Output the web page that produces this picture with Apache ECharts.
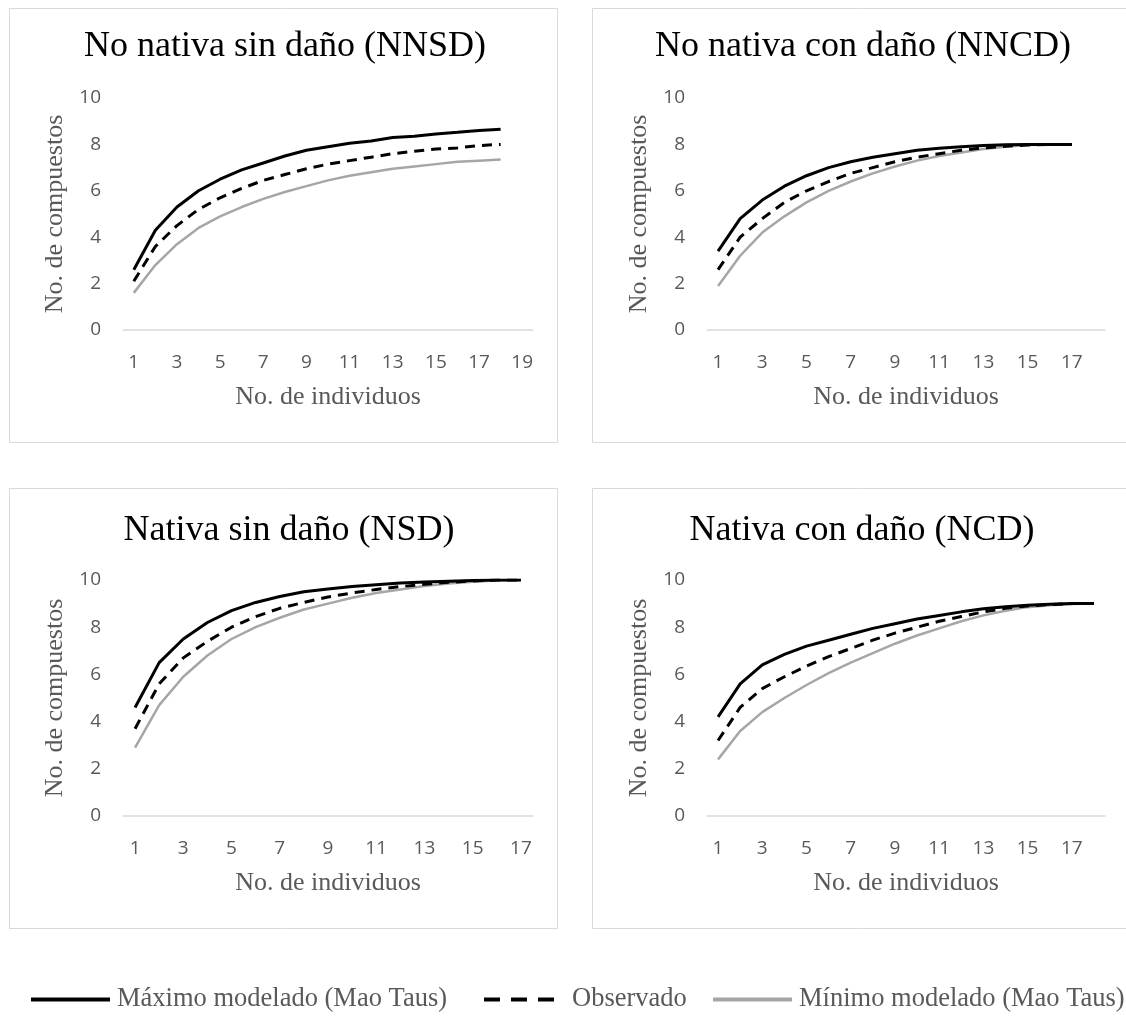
<!DOCTYPE html>
<html>
<head>
<meta charset="utf-8">
<script src="https://cdn.jsdelivr.net/npm/echarts@6/dist/echarts.min.js"></script>
<style>
html,body{margin:0;padding:0;background:#fff;}
#chart{width:1126px;height:1026px;}
</style>
</head>
<body>
<div id="chart"></div>
<script>
// ---- Data ----
var panelTitles = ['No nativa sin daño (NNSD)', 'No nativa con daño (NNCD)', 'Nativa sin daño (NSD)', 'Nativa con daño (NCD)'];
var seriesNames = ['Máximo modelado (Mao Taus)', 'Observado', 'Mínimo modelado (Mao Taus)'];

// x-axis categories (No. de individuos)
var catsNNSD = ['1','2','3','4','5','6','7','8','9','10','11','12','13','14','15','16','17','18','19'];
var catsNNCD = ['1','2','3','4','5','6','7','8','9','10','11','12','13','14','15','16','17','18'];
var catsNSD  = ['1','2','3','4','5','6','7','8','9','10','11','12','13','14','15','16','17'];
var catsNCD  = ['1','2','3','4','5','6','7','8','9','10','11','12','13','14','15','16','17','18'];

// NNSD
var maxNNSD = [2.6, 4.3, 5.3, 6.0, 6.5, 6.9, 7.2, 7.5, 7.75, 7.9, 8.05, 8.15, 8.3, 8.35, 8.45, 8.52, 8.6, 8.65];
var obsNNSD = [2.1, 3.6, 4.5, 5.2, 5.7, 6.1, 6.45, 6.7, 6.95, 7.15, 7.3, 7.45, 7.6, 7.7, 7.8, 7.85, 7.95, 8.0];
var minNNSD = [1.6, 2.8, 3.7, 4.4, 4.9, 5.3, 5.65, 5.95, 6.2, 6.45, 6.65, 6.8, 6.95, 7.05, 7.15, 7.25, 7.3, 7.35];
// NNCD
var maxNNCD = [3.4, 4.8, 5.6, 6.2, 6.65, 7.0, 7.25, 7.45, 7.6, 7.75, 7.83, 7.9, 7.95, 7.98, 8.0, 8.0, 8.0];
var obsNNCD = [2.6, 4.0, 4.8, 5.5, 6.0, 6.4, 6.75, 7.0, 7.25, 7.45, 7.6, 7.75, 7.85, 7.92, 7.97, 8.0, 8.0];
var minNNCD = [1.9, 3.2, 4.2, 4.9, 5.5, 6.0, 6.4, 6.75, 7.05, 7.3, 7.5, 7.65, 7.8, 7.9, 7.97, 8.0, 8.0];
// NSD
var maxNSD = [4.6, 6.5, 7.5, 8.2, 8.7, 9.05, 9.3, 9.5, 9.62, 9.72, 9.8, 9.87, 9.92, 9.95, 9.98, 10.0, 10.0];
var obsNSD = [3.7, 5.6, 6.7, 7.4, 8.0, 8.45, 8.8, 9.05, 9.28, 9.45, 9.6, 9.72, 9.82, 9.9, 9.96, 10.0, 10.0];
var minNSD = [2.9, 4.7, 5.9, 6.8, 7.5, 8.0, 8.4, 8.75, 9.0, 9.25, 9.45, 9.6, 9.75, 9.85, 9.93, 9.98, 10.0];
// NCD
var maxNCD = [4.2, 5.6, 6.4, 6.85, 7.2, 7.45, 7.7, 7.95, 8.15, 8.35, 8.5, 8.65, 8.78, 8.87, 8.93, 8.97, 9.0, 9.0];
var obsNCD = [3.2, 4.6, 5.4, 5.9, 6.35, 6.75, 7.1, 7.45, 7.75, 8.0, 8.25, 8.45, 8.65, 8.8, 8.9, 8.96, 9.0, 9.0];
var minNCD = [2.4, 3.6, 4.4, 5.0, 5.55, 6.05, 6.5, 6.9, 7.3, 7.65, 7.95, 8.25, 8.5, 8.7, 8.85, 8.93, 8.98, 9.0];

var yTicksMin = 0, yTicksMax = 10, yTicksStep = 2;
var xName = 'No. de individuos';
var yName = 'No. de compuestos';

// ---- Build chart ----
var panels = [
  {cats: catsNNSD, data: [maxNNSD, obsNNSD, minNNSD]},
  {cats: catsNNCD, data: [maxNNCD, obsNNCD, minNNCD]},
  {cats: catsNSD,  data: [maxNSD,  obsNSD,  minNSD]},
  {cats: catsNCD,  data: [maxNCD,  obsNCD,  minNCD]}
];
var gridPos = [
  {left: 123, top: 98,  width: 410, height: 232},
  {left: 707, top: 98,  width: 398, height: 232},
  {left: 123, top: 580, width: 410, height: 236},
  {left: 707, top: 580, width: 398, height: 236}
];
var titlePos = [
  {x: 285, y: 29}, {x: 863, y: 29}, {x: 289, y: 513}, {x: 862, y: 513}
];
var boxes = [
  {x: 9.5, y: 8.5, w: 548, h: 434},
  {x: 592.5, y: 8.5, w: 560, h: 434},
  {x: 9.5, y: 488.5, w: 548, h: 440},
  {x: 592.5, y: 488.5, w: 560, h: 440}
];

var GRAY = '#595959';
var serif = '"Liberation Serif", "Times New Roman", serif';
var sans = '"Open Sans", "Liberation Sans", sans-serif';

var lineStyles = [
  {color: '#000000', width: 3, type: 'solid'},
  {color: '#000000', width: 3, type: [10, 7]},
  {color: '#a6a6a6', width: 2.5, type: 'solid'}
];

var legendBase = {
  top: 986, itemHeight: 14, padding: 0, itemGap: 0, selectedMode: false,
  itemStyle: {opacity: 0, borderWidth: 0}
};
function mkLegend(extra) {
  var o = {};
  for (var k in legendBase) o[k] = legendBase[k];
  for (var k2 in extra) o[k2] = extra[k2];
  return o;
}

var option = {
  backgroundColor: '#ffffff',
  animation: false,
  title: panelTitles.map(function (t, i) {
    return {
      text: t, left: titlePos[i].x, top: titlePos[i].y, textAlign: 'center', padding: 0,
      textStyle: {fontFamily: serif, fontSize: 36, fontWeight: 'normal', color: '#000'}
    };
  }),
  graphic: boxes.map(function (b) {
    return {type: 'rect', shape: {x: b.x, y: b.y, width: b.w, height: b.h}, silent: true, z: -10,
      style: {fill: 'none', stroke: '#d9d9d9', lineWidth: 1}};
  }),
  legend: [
    mkLegend({left: 29, itemWidth: 79, data: [seriesNames[0]],
      lineStyle: {width: 4},
      textStyle: {fontFamily: serif, fontSize: 26.5, color: GRAY, padding: [0,0,0,2]}}),
    mkLegend({left: 482, itemWidth: 71, data: [seriesNames[1]],
      lineStyle: {type: [16, 11], width: 4},
      textStyle: {fontFamily: serif, fontSize: 26.5, color: GRAY, padding: [8,0,0,12]}}),
    mkLegend({left: 711, itemWidth: 79, data: [seriesNames[2]],
      lineStyle: {width: 4},
      textStyle: {fontFamily: serif, fontSize: 26.5, color: GRAY, padding: [0,0,0,2]}})
  ],
  grid: gridPos.map(function (g) { return {left: g.left, top: g.top, width: g.width, height: g.height, containLabel: false}; }),
  xAxis: panels.map(function (p, i) {
    return {
      type: 'category', gridIndex: i, data: p.cats, boundaryGap: true,
      axisLine: {lineStyle: {color: '#d9d9d9', width: 1.5}},
      axisTick: {show: false},
      axisLabel: {interval: 1, margin: 23, color: GRAY, fontFamily: sans, fontSize: 19},
      splitLine: {show: false},
      name: xName, nameLocation: 'middle', nameGap: 54,
      nameTextStyle: {fontFamily: serif, fontSize: 26, color: GRAY}
    };
  }),
  yAxis: panels.map(function (p, i) {
    return {
      type: 'value', gridIndex: i, min: yTicksMin, max: yTicksMax, interval: yTicksStep,
      axisLine: {show: false}, axisTick: {show: false}, splitLine: {show: false},
      axisLabel: {margin: 22, color: GRAY, fontFamily: sans, fontSize: 19},
      name: yName, nameLocation: 'middle', nameGap: 55, nameRotate: 90,
      nameTextStyle: {fontFamily: serif, fontSize: 26, color: GRAY}
    };
  }),
  series: []
};

panels.forEach(function (p, i) {
  p.data.forEach(function (arr, k) {
    option.series.push({
      type: 'line', name: seriesNames[k], xAxisIndex: i, yAxisIndex: i,
      data: arr, symbol: 'none', smooth: false, z: 10 - k,
      lineStyle: lineStyles[k], itemStyle: {color: lineStyles[k].color},
      emphasis: {disabled: true}
    });
  });
});

var chart = echarts.init(document.getElementById('chart'), null, {renderer: 'canvas'});
chart.setOption(option);
</script>
</body>
</html>
